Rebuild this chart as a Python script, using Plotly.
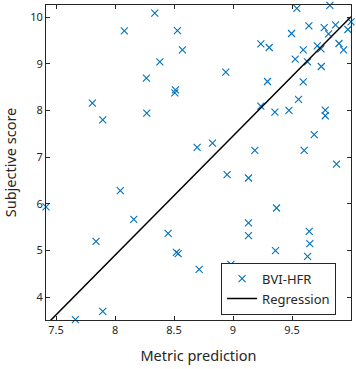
import plotly.graph_objects as go
import numpy as np

# Data
metric_pred = [8.079, 8.266, 7.808, 8.269, 7.896, 8.337, 8.529, 8.571, 8.38, 8.939,
               8.512, 8.507, 8.696, 8.826, 9.541, 9.821, 10.0, 9.643, 9.773, 9.869,
               9.974, 9.496, 9.81, 9.236, 9.307, 9.714, 9.745, 9.898, 9.937, 9.595,
               9.527, 9.632, 9.748, 9.292, 9.595, 9.555, 9.236, 9.355, 9.474, 9.782,
               9.782, 9.688, 9.185, 9.603, 9.877, 7.415, 8.045, 8.159, 7.839, 7.896,
               7.664, 8.95, 9.131, 9.131, 9.131, 8.45, 8.52, 8.535, 8.713, 8.982,
               9.369, 9.646, 9.651, 9.632, 9.36]
subjective = [9.707, 8.694, 8.158, 7.944, 7.80, 10.086, 9.713, 9.30, 9.043, 8.822,
              8.443, 8.379, 7.208, 7.302, 10.19, 10.25, 9.90, 9.814, 9.777, 9.835,
              9.735, 9.649, 9.642, 9.428, 9.349, 9.385, 9.321, 9.435, 9.30, 9.30,
              9.10, 9.043, 8.942, 8.621, 8.615, 8.236, 8.094, 7.966, 8.0, 8.009,
              7.887, 7.48, 7.143, 7.143, 6.85, 5.932, 6.28, 5.666, 5.195, 3.696,
              3.518, 6.623, 6.553, 5.589, 5.317, 5.366, 4.96, 4.93, 4.596, 4.70,
              5.91, 5.41, 5.146, 4.874, 4.996]

reg_slope = 2.556
reg_intercept = -15.55

x_range = [7.415, 10.0]
y_range = [3.51, 10.26]
x_ticks = [7.5, 8, 8.5, 9, 9.5]
x_tick_labels = ["7.5", "8", "8.5", "9", "9.5"]
y_ticks = [4, 5, 6, 7, 8, 9, 10]

reg_x = np.array(x_range)
reg_y = reg_slope * reg_x + reg_intercept

fig = go.Figure()
fig.add_trace(go.Scatter(
    x=metric_pred, y=subjective, mode="markers", name="BVI-HFR",
    marker=dict(symbol="x-thin", size=7, color="#0072BD",
                line=dict(width=1.1, color="#0072BD")),
    cliponaxis=False))
fig.add_trace(go.Scatter(
    x=reg_x, y=reg_y, mode="lines", name="Regression",
    line=dict(color="black", width=1.5)))

axis_common = dict(showgrid=False, zeroline=False, showline=True, linecolor="#262626",
                   linewidth=1, mirror="allticks", ticks="inside", ticklen=4,
                   tickcolor="#262626", tickfont=dict(size=11, color="#262626"),
                   automargin=False)
fig.update_xaxes(range=x_range, tickvals=x_ticks, ticktext=x_tick_labels,
                 title=dict(text="Metric prediction", font=dict(size=14.5, color="#262626"),
                            standoff=14), **axis_common)
fig.update_yaxes(range=y_range, tickvals=y_ticks,
                 title=dict(text="Subjective score", font=dict(size=14.5, color="#262626"),
                            standoff=10), **axis_common)

fig.update_layout(
    width=356, height=369,
    margin=dict(l=46, r=5, t=5, b=49),
    paper_bgcolor="white", plot_bgcolor="white",
    font=dict(family="Noto Sans", color="#262626"),
    showlegend=True,
    legend=dict(x=0.951, y=0.017, xanchor="right", yanchor="bottom",
                bgcolor="white", bordercolor="#262626", borderwidth=1,
                font=dict(size=13, color="#262626"), tracegroupgap=0),
)

fig.write_html("out.html", config={"displayModeBar": False},
               post_script="document.body.style.margin='0';document.body.style.overflow='hidden';")
